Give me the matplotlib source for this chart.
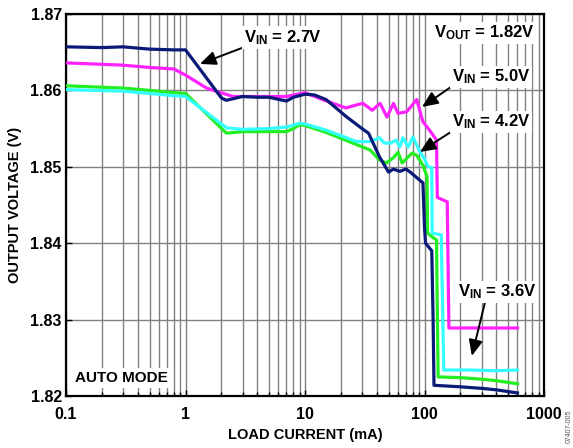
import numpy as np
import matplotlib
matplotlib.use("Agg")
import matplotlib.pyplot as plt
from matplotlib.ticker import FixedLocator, NullFormatter, LogLocator

plt.rcParams['font.family'] = ['Liberation Sans', 'DejaVu Sans']
plt.rcParams['font.weight'] = 'bold'
plt.rcParams['mathtext.fontset'] = 'custom'
plt.rcParams['mathtext.rm'] = 'Liberation Sans:bold'
plt.rcParams['mathtext.bf'] = 'Liberation Sans:bold'
plt.rcParams['mathtext.it'] = 'Liberation Sans:bold'

# load current (mA) and output voltage (V)
i_27 = [0.1, 0.2, 0.3, 0.5, 0.8, 1.0, 2.0, 2.2, 3, 4, 5, 7, 8, 10, 12, 15, 22, 30, 34,
        42, 50, 55, 62, 70, 76, 97, 100, 102, 115, 118, 120, 200, 300, 400, 600]
v_27 = [1.8657, 1.8656, 1.8657, 1.8654, 1.8653, 1.8653, 1.8590, 1.8587, 1.8592, 1.8591,
        1.8591, 1.8586, 1.8591, 1.8595, 1.8594, 1.8588, 1.8566, 1.8550, 1.8544, 1.8513,
        1.8493, 1.8497, 1.8494, 1.8497, 1.8493, 1.8479, 1.8420, 1.8400, 1.8390, 1.8300,
        1.8214, 1.8212, 1.8210, 1.8208, 1.8204]

i_36 = [0.1, 0.3, 0.5, 0.8, 1.0, 2.2, 3, 5, 7, 8, 9, 10, 15, 27, 35, 42, 48, 55, 60, 65,
        72, 79, 86, 97, 105, 106, 126, 130, 200, 300, 400, 600]
v_36 = [1.8606, 1.8603, 1.8600, 1.8597, 1.8596, 1.8544, 1.8546, 1.8546, 1.8546, 1.8550,
        1.8555, 1.8554, 1.8545, 1.8529, 1.8522, 1.8509, 1.8505, 1.8512, 1.8519, 1.8505,
        1.8512, 1.8518, 1.8515, 1.8502, 1.8487, 1.8413, 1.8404, 1.8225, 1.8224, 1.8222,
        1.8220, 1.8216]

i_42 = [0.1, 0.3, 0.5, 0.8, 1.0, 2.2, 3, 5, 7, 9, 10, 15, 27, 35, 42, 46, 52, 58, 62,
        66, 73, 80, 92, 101, 107, 115, 116, 138, 145, 240, 400, 600]
v_42 = [1.8601, 1.8599, 1.8596, 1.8593, 1.8592, 1.8551, 1.8549, 1.8550, 1.8552, 1.8557,
        1.8556, 1.8548, 1.8533, 1.8533, 1.8538, 1.8531, 1.8531, 1.8535, 1.8526, 1.8538,
        1.8526, 1.8539, 1.8519, 1.8509, 1.8500, 1.8499, 1.8413, 1.8411, 1.8234, 1.8234,
        1.8233, 1.8234]

i_50 = [0.1, 0.3, 0.5, 0.8, 1.0, 1.5, 2.5, 5, 7, 10, 14, 22, 27, 30.5, 36.5, 42.5, 48.5,
        55, 60, 71, 86, 97, 110, 126, 128, 155, 160, 290, 600]
v_50 = [1.8636, 1.8633, 1.8630, 1.8628, 1.8620, 1.8603, 1.8592, 1.8592, 1.8592, 1.8597,
        1.8588, 1.8577, 1.8581, 1.8583, 1.8574, 1.8583, 1.8565, 1.8583, 1.8570, 1.8572,
        1.8588, 1.8559, 1.8548, 1.8535, 1.8460, 1.8454, 1.8289, 1.8289, 1.8289]

x_ticks = [0.1, 1, 10, 100, 1000]
x_ticklabels = ['0.1', '1', '10', '100', '1000']
y_ticks = [1.82, 1.83, 1.84, 1.85, 1.86, 1.87]

fig = plt.figure(figsize=(5.73, 4.48), dpi=100)
ax = fig.add_axes([0.1152, 0.1161, 0.8342, 0.8527])

ax.plot(i_36, v_36, color='#22ee22', lw=2.3, zorder=3)
ax.plot(i_42, v_42, color='#33ffff', lw=2.3, zorder=3)
ax.plot(i_50, v_50, color='#ff22ff', lw=2.3, zorder=3)
ax.plot(i_27, v_27, color='#0a1a78', lw=2.3, zorder=4)

ax.set_xscale('log')
ax.set_xlim(0.1, 1000)
ax.set_ylim(1.82, 1.87)
ax.set_xticks(x_ticks)
ax.set_xticklabels(x_ticklabels)
ax.xaxis.set_minor_locator(LogLocator(base=10, subs=np.arange(2, 10)))
ax.xaxis.set_minor_formatter(NullFormatter())
ax.yaxis.set_major_locator(FixedLocator(y_ticks))
ax.set_yticklabels(['%.2f' % v for v in y_ticks])

ax.grid(True, which='major', axis='both', color='#808080', lw=1.0, zorder=1)
ax.grid(True, which='minor', axis='x', color='#808080', lw=1.0, zorder=1)
ax.tick_params(which='both', direction='in', labelsize=11.5, width=1, pad=3)
ax.tick_params(axis='x', which='major', pad=8)
ax.tick_params(which='major', length=4)
ax.tick_params(which='minor', length=3)
for s in ax.spines.values():
    s.set_linewidth(1.6)

ax.set_xlabel('LOAD CURRENT (mA)', fontsize=10.5, fontweight='bold', labelpad=4)
ax.set_ylabel('OUTPUT VOLTAGE (V)', fontsize=10.5, fontweight='bold', labelpad=6)

box = dict(facecolor='white', edgecolor='none', pad=1.5)
arr = dict(arrowstyle='-|>,head_length=0.8,head_width=0.35', color='black', lw=1.4,
           shrinkA=0, shrinkB=0)

ax.annotate(r'V$_{\mathrm{IN}}$ = 2.7V', xy=(1.32, 1.86346), xytext=(6.55, 1.8669),
            ha='center', va='center', fontsize=12, fontweight='bold', bbox=box,
            arrowprops=dict(arr, relpos=(0.0, 0.0)), zorder=6)
ax.text(315, 1.86751, r'V$_{\mathrm{OUT}}$ = 1.82V', ha='center', va='center',
        fontsize=12, fontweight='bold', bbox=box, zorder=6)
ax.annotate(r'V$_{\mathrm{IN}}$ = 5.0V', xy=(95.3, 1.85783), xytext=(360, 1.86175),
            ha='center', va='center', fontsize=12, fontweight='bold', bbox=box,
            arrowprops=dict(arr, relpos=(0.0, 0.0)), zorder=6)
ax.annotate(r'V$_{\mathrm{IN}}$ = 4.2V', xy=(91.6, 1.85194), xytext=(360, 1.85586),
            ha='center', va='center', fontsize=12, fontweight='bold', bbox=box,
            arrowprops=dict(arr, relpos=(0.0, 0.0)), zorder=6)
ax.annotate(r'V$_{\mathrm{IN}}$ = 3.6V', xy=(249, 1.82525), xytext=(404, 1.83361),
            ha='center', va='center', fontsize=12, fontweight='bold', bbox=box,
            arrowprops=dict(arr, relpos=(0.35, 0.0)), zorder=6)

ax.text(0.019, 0.047, 'AUTO MODE', transform=ax.transAxes, ha='left', va='center',
        fontsize=11, fontweight='bold', bbox=dict(facecolor='white', edgecolor='none', pad=2),
        zorder=6)

fig.text(0.993, 0.012, '07407-005', rotation=90, fontsize=5, color='#555555',
         fontweight='normal', ha='center', va='bottom')

fig.savefig('out.png', dpi=100)
